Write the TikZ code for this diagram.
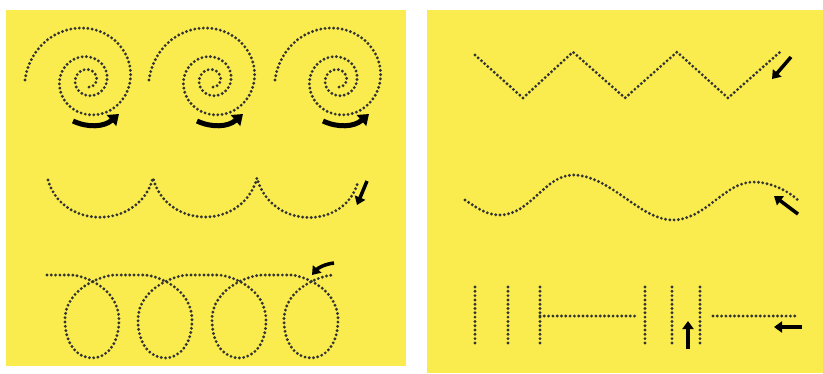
\documentclass[tikz,border=0pt]{standalone}
\usepackage{tikz}
\usetikzlibrary{arrows.meta}
\definecolor{padyellow}{RGB}{250,236,78}

\begin{document}
\begin{tikzpicture}[x=1pt, y=-1pt,
  dotline/.style={draw=black!80, line width=3.2pt, dash pattern=on 0pt off 4.3pt, line cap=round},
  bigarrow/.style={line width=5pt, -{Triangle[length=10pt, width=14pt]}},
  smallarrow/.style={line width=3.5pt, -{Triangle[length=8pt, width=11pt]}}]
  \useasboundingbox (0,0) rectangle (823,373);
  % two yellow pads
  \fill[padyellow] (6,10) rectangle (406,366);
  \fill[padyellow] (427,10) rectangle (823,373);
  % spirals with turning arrows
  \foreach \cx in {88,212,338} {
    \draw[dotline] plot[domain=0:1000, samples=180, variable=\t]
      ({\cx+63*exp(-0.7985*\t/360)*cos(180+\t)}, {80+63*exp(-0.7985*\t/360)*sin(180+\t)});
    \draw[bigarrow] (\cx-15,121) .. controls (\cx,128) and (\cx+16,127) .. (\cx+31,114);
  }
  % scallops
  \draw[dotline] (48,180) .. controls (62,230) and (139,230) .. (153,178)
    .. controls (167,230) and (243,230) .. (257,178)
    .. controls (271,230) and (345,230) .. (358,182);
  \draw[smallarrow] (367,181) -- (357,205);
  % loops on a line
  \draw[dotline] (47,275) foreach \cx in {93,166,240,312} {
    -- (\cx-22,275) .. controls (\cx-10,275) and (\cx+26,288) .. (\cx+26,320)
    .. controls (\cx+26,345) and (\cx+13,358) .. (\cx-1,358)
    .. controls (\cx-15,358) and (\cx-28,345) .. (\cx-28,320)
    .. controls (\cx-28,288) and (\cx+10,275) .. (\cx+22,275)
  };
  \draw[smallarrow] (334,263) .. controls (325,264) and (318,268) .. (312,275);
  % zigzag
  \draw[dotline] (475,55) -- (523,98) -- (573,52) -- (625,98) -- (677,52) -- (728,98) -- (780,52);
  \draw[smallarrow] (791,57) -- (772,79);
  % wave
  \draw[dotline] (465,200) .. controls (480,210) and (488,215) .. (500,215)
    .. controls (530,215) and (545,175) .. (573,175)
    .. controls (610,175) and (640,220) .. (673,220)
    .. controls (705,220) and (725,182) .. (753,182)
    .. controls (772,182) and (790,192) .. (800,202);
  \draw[smallarrow] (798,214) -- (774,196);
  % bars and dashes
  \foreach \vx in {475,508,540,645,672,700}
    \draw[dotline] (\vx,287) -- (\vx,347);
  \draw[dotline] (540,316) -- (637,316);
  \draw[dotline] (713,316) -- (798,316);
  \draw[smallarrow] (802,327) -- (774,327);
  \draw[smallarrow] (688,349) -- (688,321);
\end{tikzpicture}
\end{document}
